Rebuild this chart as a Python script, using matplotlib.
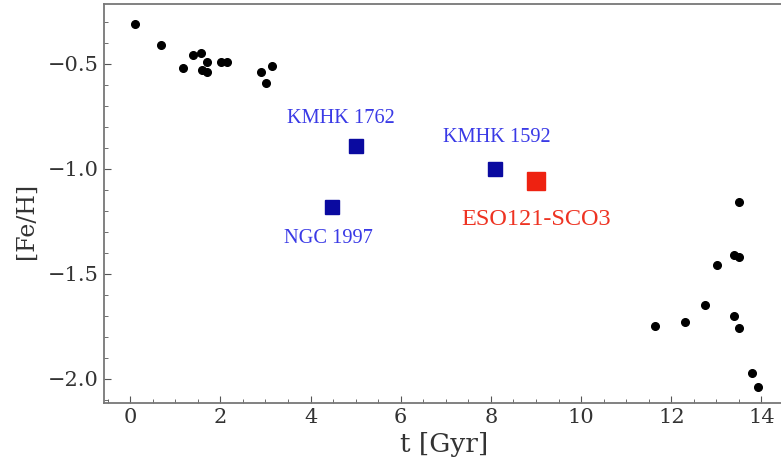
import matplotlib
matplotlib.use("Agg")
import matplotlib.pyplot as plt
from matplotlib.ticker import MultipleLocator

# field star age-metallicity points
age = [0.10, 0.69, 1.17, 1.40, 1.57, 1.70, 1.60, 1.71, 2.01, 2.14, 2.91, 3.02, 3.15,
       13.50, 13.39, 13.51, 13.01, 12.74, 11.63, 12.31, 13.39, 13.51, 13.78, 13.92]
feh = [-0.31, -0.41, -0.52, -0.46, -0.45, -0.49, -0.53, -0.54, -0.49, -0.49, -0.54, -0.59, -0.51,
       -1.16, -1.41, -1.42, -1.46, -1.65, -1.75, -1.73, -1.70, -1.76, -1.97, -2.04]

# clusters
cl_names = ["KMHK 1762", "NGC 1997", "KMHK 1592"]
cl_age = [5.01, 4.48, 8.08]
cl_feh = [-0.89, -1.18, -1.00]
eso_name = "ESO121-SCO3"
eso_age = 8.99
eso_feh = -1.06

plt.rcParams['font.family'] = ['DejaVu Serif']

fig = plt.figure(figsize=(7.81, 4.65), dpi=100)
ax = fig.add_axes([104/781, 62/465, 680/781, 399/465])

ax.plot(age, feh, 'o', color='black', markersize=5.5)
ax.plot(cl_age, cl_feh, 's', color='#0a0aa0', markersize=10.5)
ax.plot(eso_age, eso_feh, 's', color='#ee2211', markersize=13)

# labels next to cluster markers
lab_off = [(-0.34, 0.13), (-0.09, -0.15), (0.06, 0.15)]
for n, x, y, (dx, dy) in zip(cl_names, cl_age, cl_feh, lab_off):
    ax.text(x + dx, y + dy, n, color='#3a3ae6', fontsize=14.7, ha='center', va='center',
            family='Liberation Serif')
ax.text(eso_age + 0.01, eso_feh - 0.18, eso_name, color='#ee3322', fontsize=17.5,
        ha='center', va='center', family='Liberation Serif')

ax.set_xlim(-0.58, 14.5)
ax.set_ylim(-2.115, -0.215)
ax.xaxis.set_major_locator(MultipleLocator(2))
ax.xaxis.set_minor_locator(MultipleLocator(0.5))
ax.yaxis.set_major_locator(MultipleLocator(0.5))
ax.yaxis.set_minor_locator(MultipleLocator(0.1))
ax.tick_params(which='both', direction='in', colors='#555555', labelcolor='#333333',
               labelsize=15)
ax.tick_params(which='major', length=5)
ax.tick_params(which='minor', length=3)
for s in ax.spines.values():
    s.set_color('#777777')
    s.set_linewidth(1.3)

ax.set_xlabel("t [Gyr]", fontsize=19, color='#333333')
ax.set_ylabel("[Fe/H]", fontsize=17, color='#333333')
ax.yaxis.set_label_coords(-0.097, 0.456)

fig.savefig("out.png", dpi=100)
